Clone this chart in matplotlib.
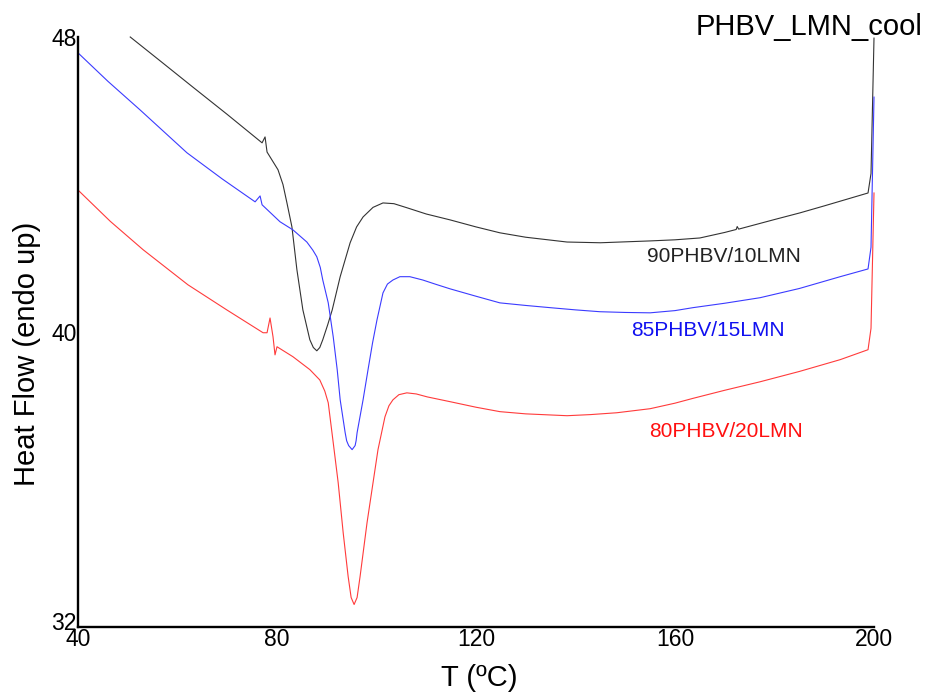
#!/usr/bin/env python3

# DSC cooling curves for PHBV/LMN blends

import matplotlib
import matplotlib.pyplot as plt
import matplotlib.transforms as mtransforms
matplotlib.use('Agg')

plt.rcParams['font.family'] = ['Liberation Sans', 'DejaVu Sans']

# 90PHBV/10LMN
t_90 = [50.5, 57.0, 63.1, 70.0, 77.0, 77.6, 78.0, 80.2, 81.2, 82.0, 83.0,
        84.0, 85.2, 86.6, 87.3, 88.0, 88.6, 89.2, 90.2, 91.1, 92.7, 94.7,
        96.0, 97.3, 99.3, 101.3, 103.5, 106.1, 110.0, 114.8, 120.0, 124.8,
        130.0, 138.3, 145.0, 155.0, 160.0, 165.0, 170.0, 172.3, 172.5,
        172.8, 180.0, 185.1, 190.0, 198.8, 199.4, 200.0]
hf_90 = [48.0, 47.3, 46.64, 45.9, 45.13, 45.29, 44.88, 44.40, 44.0, 43.50,
         42.85, 41.69, 40.60, 39.79, 39.58, 39.49, 39.58, 39.79, 40.2,
         40.60, 41.50, 42.42, 42.85, 43.12, 43.38, 43.50, 43.48, 43.37,
         43.20, 43.04, 42.85, 42.69, 42.57, 42.44, 42.42, 42.47, 42.50,
         42.55, 42.70, 42.78, 42.86, 42.79, 43.05, 43.23, 43.42, 43.77,
         44.3, 47.97]

# 85PHBV/15LMN
t_85 = [40.0, 46.0, 52.5, 61.9, 69.0, 75.6, 76.6, 77.0, 80.6, 83.2, 86.0,
        87.2, 88.0, 88.7, 89.2, 90.3, 91.3, 92.1, 92.7, 93.7, 94.0, 94.4,
        95.1, 95.7, 95.9, 96.1, 97.3, 98.3, 99.2, 100.1, 101.3, 102.2,
        103.3, 104.7, 106.7, 109.3, 112.0, 114.8, 120.0, 124.8, 130.0,
        134.9, 140.0, 144.9, 150.0, 155.0, 160.0, 163.6, 170.0, 177.1,
        185.0, 193.2, 198.8, 199.4, 200.0]
hf_85 = [47.57, 46.8, 46.02, 44.86, 44.15, 43.53, 43.69, 43.45, 42.99,
         42.77, 42.44, 42.22, 42.04, 41.75, 41.41, 40.79, 39.87, 38.98,
         38.16, 37.27, 37.05, 36.92, 36.81, 36.92, 37.05, 37.27, 38.16,
         38.98, 39.7, 40.33, 41.06, 41.30, 41.41, 41.50, 41.50, 41.41,
         41.29, 41.17, 40.97, 40.79, 40.72, 40.66, 40.60, 40.55, 40.53,
         40.52, 40.58, 40.66, 40.78, 40.93, 41.18, 41.50, 41.71, 42.3,
         46.37]

# 80PHBV/20LMN
t_80 = [40.0, 46.5, 53.1, 62.1, 69.9, 77.2, 78.0, 78.6, 79.2, 79.6, 80.0,
        83.2, 86.6, 88.6, 89.6, 90.3, 91.3, 92.3, 93.3, 94.3, 94.9, 95.5,
        96.1, 96.7, 98.1, 99.3, 100.3, 101.7, 102.5, 103.3, 104.5, 106.1,
        108.0, 110.2, 114.8, 120.0, 124.8, 130.0, 138.3, 143.0, 148.3,
        155.0, 160.0, 163.6, 170.0, 177.1, 185.0, 193.2, 198.8, 199.4,
        200.0]
hf_80 = [43.85, 43.0, 42.23, 41.28, 40.60, 39.98, 39.98, 40.38, 39.87,
         39.38, 39.60, 39.33, 38.98, 38.70, 38.4, 38.08, 37.00, 35.91,
         34.56, 33.37, 32.80, 32.61, 32.80, 33.37, 34.83, 35.91, 36.81,
         37.70, 38.0, 38.16, 38.3, 38.35, 38.32, 38.24, 38.11, 37.96, 37.84,
         37.78, 37.73, 37.76, 37.81, 37.92, 38.07, 38.2, 38.42, 38.65,
         38.93, 39.25, 39.52, 40.1, 43.77]

series = [(t_90, hf_90, '#333333', '90PHBV/10LMN', 169.8, 42.04, '#222222'),
          (t_85, hf_85, '#3b3bff', '85PHBV/15LMN', 166.6, 40.03, '#1010f0'),
          (t_80, hf_80, '#ff3b3b', '80PHBV/20LMN', 170.2, 37.30, '#ff1010')]

fig = plt.figure(figsize=(9.31, 6.95), dpi=100)
ax = fig.add_axes([78 / 931, 1 - 627 / 695, 796 / 931, 590 / 695])

for t, hf, col, name, lx, ly, tcol in series:
    ax.plot(t, hf, color=col, linewidth=0.8, clip_on=False)
    ax.text(lx, ly, name, color=tcol, fontsize=15, ha='center', va='center')

ax.set_xlim(40, 200)
ax.set_ylim(32, 48)
ax.set_xticks([40, 80, 120, 160, 200])
ax.set_yticks([32, 40, 48])
ax.tick_params(length=0, labelsize=16.5)
ax.tick_params(axis='x', pad=1)
ax.tick_params(axis='y', pad=1)

# lift the bottom y label a bit so it sits above the "40" on the x axis
lift = mtransforms.ScaledTranslation(0, 6 / 100, fig.dpi_scale_trans)
lbl = ax.get_yticklabels()[0]
lbl.set_transform(lbl.get_transform() + lift)

ax.spines['right'].set_visible(False)
ax.spines['top'].set_visible(False)
ax.spines['left'].set_linewidth(1.7)
ax.spines['bottom'].set_linewidth(1.7)

# Axis names
fig.text(27 / 931, 1 - 354 / 695, 'Heat Flow (endo up)', rotation=90,
         ha='center', va='center', fontsize=21)
fig.text(479 / 931, 1 - 678 / 695, 'T (ºC)', ha='center', va='center',
         fontsize=21)
fig.text(922 / 931, 1 - 35 / 695, 'PHBV_LMN_cool', ha='right',
         va='baseline', fontsize=21)

plt.savefig('out.png', dpi=100)
